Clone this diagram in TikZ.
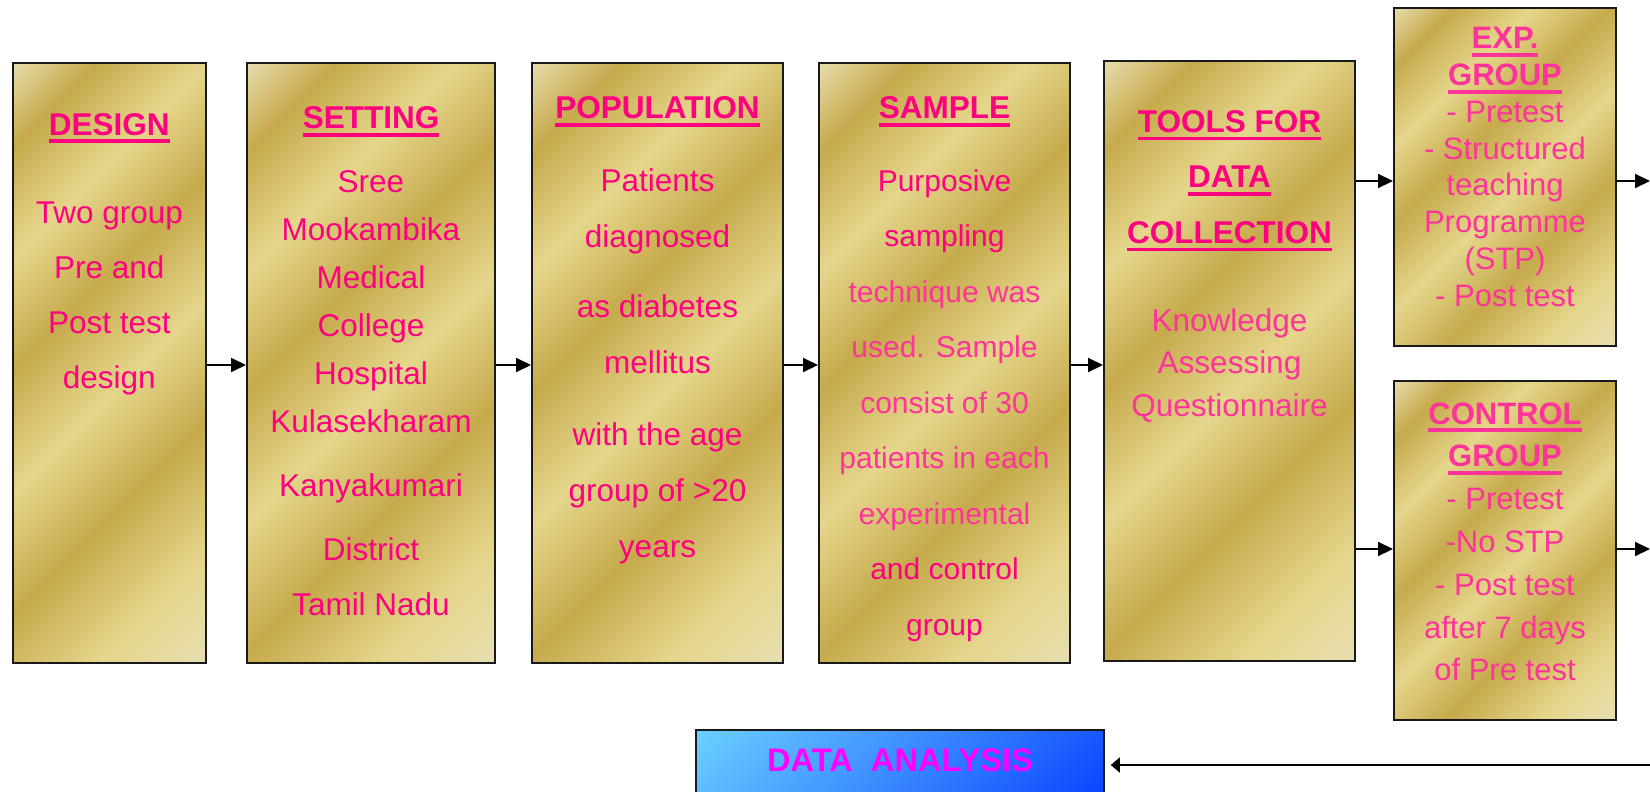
\documentclass[tikz,border=0pt]{standalone}
\usepackage{fontspec}
\setmainfont{Liberation Sans}
\usetikzlibrary{arrows.meta}
\definecolor{goldpale}{HTML}{E8DFB2}
\definecolor{golddark}{HTML}{C6AA4C}
\definecolor{goldlight}{HTML}{E5D68C}
\definecolor{skyblue}{HTML}{6ACFFF}
\definecolor{deepblue}{HTML}{0A44FF}
\definecolor{pinkhot}{HTML}{FF0080}
\definecolor{pinksoft}{HTML}{FF3399}
\definecolor{magentatext}{HTML}{FF00FF}
\pgfdeclarehorizontalshading{goldsheen}{100bp}{color(0bp)=(goldpale); color(14bp)=(goldpale); color(22bp)=(golddark); color(32bp)=(goldlight); color(42bp)=(golddark); color(53bp)=(goldlight); color(64bp)=(golddark); color(76bp)=(goldlight); color(86bp)=(goldpale); color(100bp)=(goldpale)}
\pgfdeclarehorizontalshading{bluesheen}{100bp}{color(0bp)=(skyblue); color(15bp)=(skyblue); color(85bp)=(deepblue); color(100bp)=(deepblue)}
\newsavebox{\ulsave}
\newcommand{\ulbar}[1]{\sbox\ulsave{#1}\leavevmode\rlap{\rule[-4pt]{\wd\ulsave}{1.8pt}}\usebox\ulsave}

\begin{document}
\begin{tikzpicture}[
  x=0.5pt, y=-0.5pt,
  >={Triangle[length=7.5pt, width=7pt]},
  goldbox/.style={rectangle, draw=black!90, line width=1pt, shading=goldsheen, shading angle=-45, minimum height=300pt, inner sep=0pt},
  bluebox/.style={rectangle, draw=black!90, line width=0.8pt, shading=bluesheen, shading angle=-45, inner sep=0pt},
  ttl/.style={anchor=base, font=\fontsize{15.75}{27.75}\selectfont\bfseries, text=pinkhot, inner sep=0pt},
  bodytxt/.style={anchor=north, align=center, font=\fontsize{15.75}{27.5}\selectfont, text=pinkhot, inner sep=0pt},
  grouptxt/.style={anchor=north, align=center, font=\fontsize{15.5}{18.4}\selectfont, text=pinksoft, inner sep=0pt},
  flow/.style={->, line width=1pt},
  backflow/.style={-{Triangle[length=4.5pt, width=7.5pt]}, line width=0.8pt, shorten >=3pt},
]
\clip (0,0) rectangle (1650,792);

% ---- main row of boxes ----
\node[goldbox, minimum width=96.7pt] (design) at (109.3, 363) {};
\node[goldbox, minimum width=124pt]  (setting) at (371, 363) {};
\node[goldbox, minimum width=125.5pt] (population) at (657.5, 363) {};
\node[goldbox, minimum width=125.5pt] (sample) at (944.5, 363) {};
\node[goldbox, minimum width=125.5pt] (tools) at (1229.5, 361) {};

% ---- the two groups ----
\node[goldbox, minimum width=111pt, minimum height=169pt] (expgrp) at (1505, 177) {};
\node[goldbox, minimum width=111pt, minimum height=169.5pt] (ctrlgrp) at (1505, 550.5) {};

% ---- analysis ----
\node[bluebox, minimum width=204pt, minimum height=35pt] (analysis) at (900, 765) {};

% ---- texts ----
\node[ttl] (designttl) at (109.3, 135) {\ulbar{DESIGN}};
\node[bodytxt] (designbody) at (109.3, 201) {Two group\\Pre and\\Post test\\design};

\node[ttl] (settingttl) at (371, 129) {\ulbar{SETTING}};
\node[bodytxt, font=\fontsize{15.75}{24}\selectfont] (settingbody) at (371, 170)
  {Sree\\Mookambika\\Medical\\College\\Hospital\\Kulasekharam\\[8pt]Kanyakumari\\[8pt]District\\[3.5pt]Tamil Nadu};

\node[ttl] (populationttl) at (657.5, 119) {\ulbar{POPULATION}};
\node[bodytxt, font=\fontsize{15.75}{28}\selectfont] (populationbody) at (657.5, 168)
  {Patients\\diagnosed\\[7pt]as diabetes\\mellitus\\[8pt]with the age\\group of >20\\years};

\node[ttl] (samplettl) at (944.5, 119) {\ulbar{SAMPLE}};
\node[bodytxt, font=\fontsize{15}{27.75}\selectfont] (samplebody) at (944.5, 169)
  {Purposive\\sampling\\\textcolor{pinksoft}{technique was}\\\textcolor{pinksoft}{used. Sample}\\\textcolor{pinksoft}{consist of 30}\\\textcolor{pinksoft}{patients in each}\\\textcolor{pinksoft}{experimental}\\and control\\group};

\node[bodytxt, font=\fontsize{15.75}{27.75}\selectfont\bfseries] (toolsttl) at (1229.5, 110)
  {\ulbar{TOOLS FOR}\\\ulbar{DATA}\\\ulbar{COLLECTION}};
\node[bodytxt, font=\fontsize{15.75}{21.25}\selectfont, text=pinksoft] (toolsbody) at (1229.5, 308)
  {Knowledge\\Assessing\\Questionnaire};

\node[grouptxt] (exptxt) at (1505, 27)
  {\textbf{\ulbar{EXP.}}\\\textbf{\ulbar{GROUP}}\\- Pretest\\- Structured\\teaching\\Programme\\(STP)\\- Post test};
\node[grouptxt, font=\fontsize{15.5}{21.4}\selectfont] (ctrltxt) at (1505, 402)
  {\textbf{\ulbar{CONTROL}}\\\textbf{\ulbar{GROUP}}\\- Pretest\\-No STP\\- Post test\\after 7 days\\of Pre test};

\node[font=\fontsize{16.3}{16.3}\selectfont\bfseries, text=magentatext, inner sep=0pt] (analysistxt) at (900, 760) {DATA\ \ ANALYSIS};

% ---- connectors ----
\coordinate (expout) at (1650, 181);
\coordinate (ctrlout) at (1650, 549);
\coordinate (backin) at (1650, 765);

\draw[flow] (design.east |- 0,365) -- (setting.west |- 0,365);
\draw[flow] (setting.east |- 0,365) -- (population.west |- 0,365);
\draw[flow] (population.east |- 0,365) -- (sample.west |- 0,365);
\draw[flow] (sample.east |- 0,365) -- (tools.west |- 0,365);
\draw[flow] (tools.east |- expout) -- (expgrp.west |- expout);
\draw[flow] (tools.east |- ctrlout) -- (ctrlgrp.west |- ctrlout);
\draw[flow] (expgrp.east |- expout) -- (expout);
\draw[flow] (ctrlgrp.east |- ctrlout) -- (ctrlout);
\draw[backflow] (backin) -- (analysis.east);

\end{tikzpicture}
\end{document}
